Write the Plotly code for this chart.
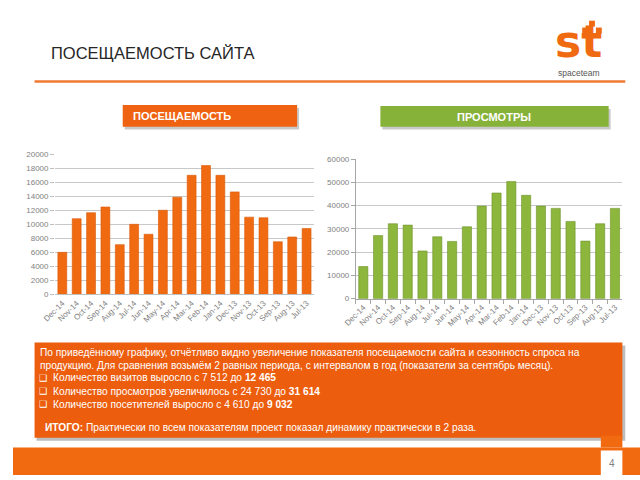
import plotly.graph_objects as go

months = ["Dec-14", "Nov-14", "Oct-14", "Sep-14", "Aug-14", "Jul-14", "Jun-14", "May-14", "Apr-14",
          "Mar-14", "Feb-14", "Jan-14", "Dec-13", "Nov-13", "Oct-13", "Sep-13", "Aug-13", "Jul-13"]
visits = [6000, 10800, 11650, 12465, 7100, 10000, 8580, 12000, 13870,
          16980, 18380, 16980, 14620, 11020, 10930, 7512, 8190, 9400]
views = [13800, 27100, 32200, 31614, 20500, 26600, 24600, 30900, 39800,
         45400, 50300, 44400, 39800, 38800, 33200, 24730, 32200, 38800]

visits_ticks = [0, 2000, 4000, 6000, 8000, 10000, 12000, 14000, 16000, 18000, 20000]
views_ticks = [0, 10000, 20000, 30000, 40000, 50000, 60000]

title = "ПОСЕЩАЕМОСТЬ САЙТА"
label_left = "ПОСЕЩАЕМОСТЬ"
label_right = "ПРОСМОТРЫ"
text_lines = [
    "По приведённому графику, отчётливо видно увеличение показателя посещаемости сайта и сезонность спроса на",
    "продукцию. Для сравнения возьмём 2 равных периода, с интервалом в год (показатели за сентябрь месяц).",
]
bullets = [
    "Количество визитов выросло с 7 512 до <b>12 465</b>",
    "Количество просмотров увеличилось с 24 730 до <b>31 614</b>",
    "Количество посетителей выросло с 4 610 до <b>9 032</b>",
]
summary = "<b>ИТОГО:</b> Практически по всем показателям проект показал динамику практически в 2 раза."

W, H = 640, 480
def px(x):
    return x / W
def py(y):
    return 1 - y / H

ORANGE = "#F06A12"
GREEN = "#8CB63C"

fig = go.Figure()
fig.add_trace(go.Bar(x=months, y=visits, xaxis="x", yaxis="y",
                     marker=dict(color=ORANGE, line=dict(color="#D85A08", width=0.6)),
                     showlegend=False, hoverinfo="skip"))
fig.add_trace(go.Bar(x=months, y=views, xaxis="x2", yaxis="y2",
                     marker=dict(color=GREEN, line=dict(color="#6E922C", width=0.6)),
                     showlegend=False, hoverinfo="skip"))

tickfont = dict(family="Liberation Sans", size=8, color="#7F7F7F")
fig.update_layout(
    width=W, height=H, margin=dict(l=0, r=0, t=0, b=0),
    paper_bgcolor="white", plot_bgcolor="white",
    bargap=0.38,
    xaxis=dict(domain=[px(43), px(307)], anchor="y", tickangle=-45, tickfont=tickfont,
               showline=True, linecolor="#BFBFBF", showgrid=False, ticks=""),
    yaxis=dict(domain=[py(296), py(153)], anchor="x", range=[0, 20000], tickvals=visits_ticks,
               tickformat="d", tickfont=tickfont, showgrid=True, gridcolor="#C8C8C8", zeroline=False,
               ticks="outside", ticklen=4, tickcolor="#BFBFBF"),
    xaxis2=dict(domain=[px(350), px(622)], anchor="y2", tickangle=-45, tickfont=tickfont,
                showline=True, linecolor="#A6A6A6", showgrid=False, ticks="outside",
                tickson="boundaries", ticklen=4, tickcolor="#A6A6A6"),
    yaxis2=dict(domain=[py(300.3), py(158)], anchor="x2", range=[0, 60000], tickvals=views_ticks,
                tickformat="d", tickfont=tickfont, showgrid=True, gridcolor="#C8C8C8", zeroline=False,
                showline=True, linecolor="#A6A6A6", ticks="outside", ticklen=4, tickcolor="#A6A6A6"),
)

shapes = []
annots = []
def rect(x0, y0, x1, y1, color):
    shapes.append(dict(type="rect", xref="paper", yref="paper", x0=px(x0), x1=px(x1),
                       y0=py(y1), y1=py(y0), fillcolor=color, line=dict(width=0), layer="below"))

def text(x, y, s, size, color, xanchor="left", bold=False, family="Liberation Sans"):
    annots.append(dict(x=px(x), y=py(y), xref="paper", yref="paper", text=(f"<b>{s}</b>" if bold else s),
                       showarrow=False, xanchor=xanchor, yanchor="middle", borderpad=0,
                       font=dict(family=family, size=size, color=color)))

# title and rule
text(38, 50, title, 16.5, "#262626")
shapes.append(dict(type="line", xref="paper", yref="paper", x0=px(22), x1=px(625), y0=py(79), y1=py(79),
                   line=dict(color="#F07A32", width=2.5)))

# logo
text(577, 38, "st", 44, ORANGE, xanchor="center", bold=True, family="DejaVu Sans")
for (x0, y0) in [(588, 17), (595, 24), (581, 24)]:
    rect(x0, y0, x0 + 6, y0 + 6, ORANGE)
text(578, 70, "spaceteam", 8.5, "#555555", xanchor="center")

# headers
rect(114, 106, 292, 128, "#C9C9C9")
rect(112, 103, 290, 125, "#EE6212")
text(173, 114, label_left, 11, "white", xanchor="center", bold=True)
rect(377, 107, 610, 128, "#C9C9C9")
rect(375, 104, 608, 125, "#86B23A")
text(491, 115, label_right, 11, "white", xanchor="center", bold=True)

# text box
rect(24, 348, 625, 445, "#BDBDBD")
rect(22, 345, 622, 442, "#EC5D0E")
fam = "Liberation Sans"
text(27, 355, text_lines[0], 10.2, "white", family=fam)
text(27, 368, text_lines[1], 10.2, "white", family=fam)
for i, b in enumerate(bullets):
    y = 381 + i * 13.5
    text(26, y, "❑", 9, "white", family="DejaVu Sans")
    text(40, y, b, 10.2, "white", family=fam)
text(32, 432, summary, 10.2, "white", family=fam)

# footer
rect(0, 452, 640, 480, "#F26A10")
rect(600, 440, 622, 452, "#F26A10")
rect(600, 455, 622, 480, "white")
text(611, 468, "4", 10, "#808080", xanchor="center")

fig.update_layout(shapes=shapes, annotations=annots, hovermode=False)
fig.write_html("out.html", config={"displayModeBar": False, "staticPlot": True},
               post_script="document.body.style.margin='0px';document.body.style.overflow='hidden';")
